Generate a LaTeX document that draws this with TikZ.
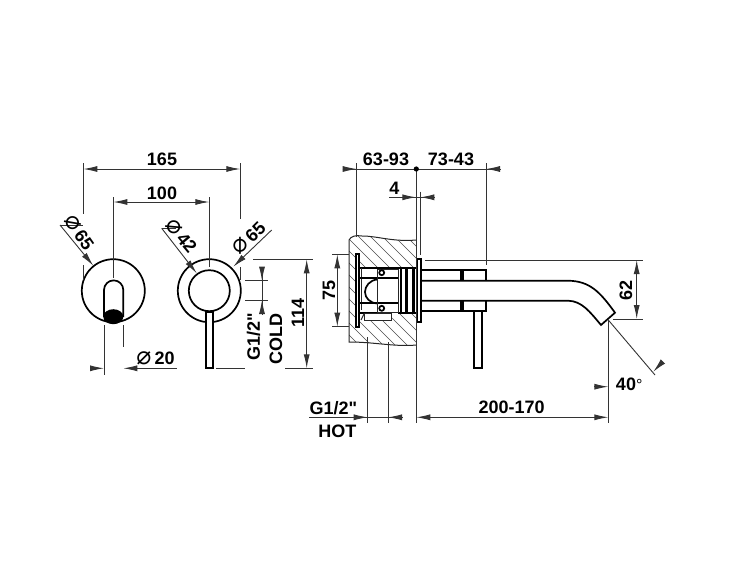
\documentclass[tikz,border=0pt]{standalone}
\usepackage{fontspec}
\setmainfont{Liberation Sans}[Ligatures=TeXOff]
\newfontfamily\symfont{DejaVu Sans}
\usetikzlibrary{arrows.meta}
\newcommand*{\dia}{{\symfont\mdseries\fontsize{25}{18}\selectfont ⌀}}
\newcommand*{\dimTo}[4]{\draw [dimline, -{Latex[length=14pt,width=6pt]}] (#1,#2) -- (#3,#4);} % x1, y1, x2, y2: arrow tip at the second point
\newcommand*{\thinLine}[4]{\draw [dimline] (#1,#2) -- (#3,#4);}
\tikzset{
    dimline/.style={draw=black!80, line width=0.9pt},
    part/.style={draw=black, line width=1.7pt},
    fine/.style={draw=black!85, line width=1pt},
    hatchline/.style={draw=black!70, line width=0.7pt},
    dimtext/.style={font=\fontsize{18}{18}\selectfont\bfseries, inner sep=0pt},
    dimsign/.style={inner sep=0pt}
}

\begin{document}
\begin{tikzpicture}[x=1pt, y=-1pt]
\useasboundingbox (0,0) rectangle (750,563);
% wall
\begin{scope}
\clip (349,240) .. controls (351,236) and (356,235) .. (362,236) .. controls (378,236) and (392,242) .. (416.3,240) -- (416.3,345) .. controls (395,347) and (375,342) .. (349,342) -- cycle;
\foreach \x in {340,352,...,540}
    \draw [hatchline] (\x,350) -- (\x-120,230);
\end{scope}
\fill [white] (356,254) -- (359.5,254) -- (359.5,267) -- (416.3,267) -- (416.3,313) -- (392,313) -- (392,321) -- (364,321) -- (364,316) -- (359.5,316) -- (359.5,327) -- (356,327) -- cycle;
\draw [fine] (416.3,240) .. controls (392,242) and (378,236) .. (362,236) .. controls (356,235) and (351,236) .. (349,240) -- (349,342) .. controls (375,342) and (395,347) .. (416.3,345);
% front views
\draw [part] (113.3,290.7) circle (31.5);
\draw [part] (209.3,290.7) circle (31.5);
\draw [part] (209.3,290.7) circle (20.5);
\draw [part, fill=white] (206,368) -- (206,312) -- (213,312) -- (213,368) -- cycle;
\draw [part] (104,317) -- (104,290) arc (180:360:9.65) -- (123.3,317);
\fill [black] (113.3,316.7) ellipse (10 and 7.5);
% side view
\draw [part, fill=white] (356,254) rectangle (359,327);
\draw [part, fill=white] (417,259) rectangle (421,322);
\draw [part] (359,267.7) -- (416,267.7);
\draw [part] (359,313.3) -- (377,313.3);
\draw [part] (398,313.3) -- (416,313.3);
\draw [fine] (361.5,268) -- (361.5,310);
\draw [part] (359,277.7) -- (398,277.7);
\draw [part] (359,302.7) -- (398,302.7);
\draw [part] (377.3,279.5) .. controls (370,280) and (365,286) .. (365,292) .. controls (365,298) and (370,303) .. (377.3,303.5);
\draw [fine] (377.3,269) rectangle (398.3,312);
\draw [part] (381.7,272.7) circle (2.5);
\draw [part] (381.7,308.3) circle (2.5);
\fill [black] (400,268) rectangle (401.7,313);
\fill [black] (405,268) rectangle (408.3,313);
\fill [black] (411.7,268) rectangle (415,313);
\draw [fine] (364.3,313.3) rectangle (391.7,320.7);
\draw [fine] (364.3,313.3) -- (361,320);
% collars and spout
\draw [part] (421,270) -- (486,270) -- (486,280.7);
\draw [part] (421,310.7) -- (486,310.7) -- (486,300.7);
\fill [black] (460,270) rectangle (463.5,280.7);
\fill [black] (460,300.7) rectangle (463.5,310.7);
\draw [part] (421,280.7) -- (568,280.7) .. controls (590,281) and (600,292) .. (615,312.7) -- (601,325) .. controls (590,312) and (582,301) .. (568,300.7) -- (421,300.7);
\draw [part, fill=white] (474.3,311) rectangle (481.7,368.3);
% dimensions, front views
\thinLine{83.3}{163}{83.3}{214}
\thinLine{83.3}{265}{83.3}{280}
\thinLine{240.3}{163}{240.3}{219}
\thinLine{240.3}{267}{240.3}{280}
\dimTo{100}{169}{83.3}{169}
\dimTo{220}{169}{240.3}{169}
\thinLine{100}{169}{220}{169}
\node [dimtext] (len165) at (162,159.5) {165};
\thinLine{113.3}{197}{113.3}{278}
\thinLine{209.3}{197}{209.3}{267}
\dimTo{130}{202}{113.3}{202}
\dimTo{190}{202}{209.3}{202}
\thinLine{130}{202}{190}{202}
\node [dimtext] (len100) at (162,193) {100};
\thinLine{60}{225}{83.3}{225}
\dimTo{60}{225}{93.3}{265.7}
\node [dimtext, rotate=-55] (diaA) at (79,232.5) {\dia\,65};
\thinLine{161.7}{228.3}{176}{228.3}
\dimTo{161.7}{228.3}{196.7}{273.3}
\node [dimtext, rotate=-50] (diaB) at (181,236) {\dia\,42};
\dimTo{271.7}{230}{233.3}{266.7}
\node [dimtext, rotate=45] (diaC) at (249,238) {\dia\,65};
\thinLine{104}{325}{104}{375}
\thinLine{123.3}{325}{123.3}{347}
\dimTo{90}{368.3}{104}{368.3}
\dimTo{138}{368.3}{123.3}{368.3}
\thinLine{138}{368.3}{177}{368.3}
\node [dimtext] (diaD) at (155.5,358) {\dia\,20};
\thinLine{245}{280.7}{268}{280.7}
\thinLine{245}{300}{268}{300}
\dimTo{262}{267}{262}{280.7}
\dimTo{262}{314}{262}{300}
\thinLine{262}{267}{262}{314}
\thinLine{216}{368.3}{245}{368.3}
\node [dimtext, rotate=90] (cold1) at (253.5,337) {G1/2"};
\node [dimtext, rotate=90] (cold2) at (276,339) {COLD};
\thinLine{253}{259.3}{313}{259.3}
\thinLine{285}{368.3}{313}{368.3}
\dimTo{306.7}{280}{306.7}{259.3}
\dimTo{306.7}{350}{306.7}{368.3}
\thinLine{306.7}{280}{306.7}{350}
\node [dimtext, rotate=90] (len114) at (298,313) {114};
% dimensions, side view
\thinLine{332}{254.3}{349}{254.3}
\thinLine{332}{326.7}{349}{326.7}
\dimTo{337.3}{270}{337.3}{254.3}
\dimTo{337.3}{311}{337.3}{326.7}
\node [dimtext, rotate=90] (len75) at (329,290) {75};
\thinLine{337.3}{270}{337.3}{311}
\thinLine{356.7}{163}{356.7}{237}
\thinLine{416.3}{169}{416.3}{423}
\thinLine{486}{163}{486}{265}
\dimTo{342.7}{169}{356.7}{169}
\dimTo{500}{169}{486}{169}
\thinLine{342.7}{169}{500}{169}
\fill [black] (416.3,169) circle (2.6);
\node [dimtext] (len6393) at (386,159) {63-93};
\node [dimtext] (len7343) at (451,159) {73-43};
\thinLine{389.3}{197.3}{434.3}{197.3}
\dimTo{402.3}{197.3}{416.3}{197.3}
\dimTo{434.3}{197.3}{420.3}{197.3}
\thinLine{420.3}{191.7}{420.3}{255}
\node [dimtext] (len4) at (394.3,188) {4};
\thinLine{425}{260}{642.7}{260}
\thinLine{613}{319}{642.7}{319}
\dimTo{636.7}{276}{636.7}{260}
\dimTo{636.7}{303}{636.7}{319}
\thinLine{636.7}{276}{636.7}{303}
\node [dimtext, rotate=90] (len62) at (626,290) {62};
\thinLine{608.3}{320}{655}{375}
\thinLine{608.3}{320}{608.3}{423}
\dimTo{662.7}{361.7}{653.3}{371.7}
\dimTo{594}{386.7}{608.3}{386.7}
\node [dimtext] (ang40) at (626,384) {40\rlap{\mdseries\fontsize{16}{16}\selectfont°}};
\dimTo{430}{417.3}{416.3}{417.3}
\dimTo{594}{417.3}{608.3}{417.3}
\thinLine{430}{417.3}{594}{417.3}
\node [dimtext] (len200) at (511.7,407.7) {200-170};
\thinLine{367.7}{337}{367.7}{423}
\thinLine{388}{342}{388}{423}
\thinLine{309.3}{417.3}{401.7}{417.3}
\dimTo{353.7}{417.3}{367.7}{417.3}
\dimTo{401.7}{417.3}{388}{417.3}
\node [dimtext] (hot1) at (333.3,408) {G1/2"};
\node [dimtext] (hot2) at (337.3,431) {HOT};
\end{tikzpicture}
\end{document}
